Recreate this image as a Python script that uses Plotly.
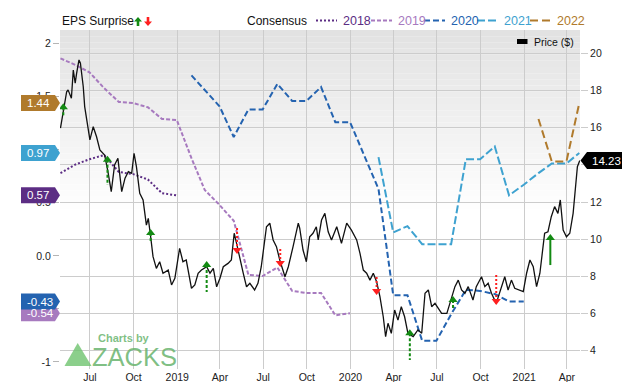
import plotly.graph_objects as go
import numpy as np

# ---------------- DATA ----------------
price_dates = [
    "2018-04-30", "2018-05-06", "2018-05-13", "2018-05-16", "2018-05-23", "2018-05-27", "2018-05-31",
    "2018-06-03", "2018-06-08", "2018-06-11", "2018-06-17", "2018-06-20", "2018-06-24", "2018-07-01",
    "2018-07-08", "2018-07-15", "2018-07-22", "2018-08-01", "2018-08-08", "2018-08-15", "2018-08-22",
    "2018-08-29", "2018-09-06", "2018-09-13", "2018-09-20", "2018-09-27", "2018-10-02", "2018-10-07",
    "2018-10-14", "2018-10-21", "2018-10-28", "2018-11-01", "2018-11-06", "2018-11-11", "2018-11-18",
    "2018-11-25", "2018-12-02", "2018-12-13", "2018-12-20", "2018-12-27", "2019-01-06", "2019-01-13",
    "2019-01-20", "2019-01-31", "2019-02-07", "2019-02-14", "2019-02-21", "2019-03-04", "2019-03-11",
    "2019-03-18", "2019-03-25", "2019-04-01", "2019-04-08", "2019-04-18", "2019-04-25", "2019-05-01",
    "2019-05-06", "2019-05-13", "2019-05-20", "2019-05-27", "2019-06-03", "2019-06-13", "2019-06-20",
    "2019-06-27", "2019-07-08", "2019-07-15", "2019-07-22", "2019-07-29", "2019-08-05", "2019-08-16",
    "2019-08-23", "2019-09-02", "2019-09-13", "2019-09-16", "2019-09-23", "2019-09-30", "2019-10-07",
    "2019-10-14", "2019-10-21", "2019-10-25", "2019-11-01", "2019-11-08", "2019-11-15", "2019-11-22",
    "2019-12-03", "2019-12-13", "2019-12-24", "2020-01-03", "2020-01-14", "2020-01-21", "2020-01-28",
    "2020-02-04", "2020-02-11", "2020-02-18", "2020-02-25", "2020-03-03", "2020-03-10", "2020-03-15",
    "2020-03-20", "2020-03-27", "2020-04-03", "2020-04-10", "2020-04-17", "2020-04-24", "2020-05-01",
    "2020-05-12", "2020-05-22", "2020-05-30", "2020-06-06", "2020-06-13", "2020-06-20", "2020-06-27",
    "2020-07-04", "2020-07-11", "2020-07-22", "2020-08-01", "2020-08-08", "2020-08-15", "2020-08-22",
    "2020-08-29", "2020-09-05", "2020-09-15", "2020-09-22", "2020-10-03", "2020-10-10", "2020-10-17",
    "2020-10-24", "2020-11-03", "2020-11-10", "2020-11-21", "2020-11-28", "2020-12-05", "2020-12-12",
    "2020-12-23", "2020-12-30", "2021-01-06", "2021-01-13", "2021-01-20", "2021-01-27", "2021-02-03",
    "2021-02-13", "2021-02-20", "2021-02-27", "2021-03-06", "2021-03-13", "2021-03-18", "2021-03-24",
    "2021-03-31", "2021-04-07", "2021-04-14", "2021-04-20", "2021-04-23", "2021-04-28",
]
price_values = [
    15.97, 16.95, 17.93, 18.03, 17.58, 19.10, 18.39,
    18.92, 19.64, 19.46, 18.20, 17.13, 16.41, 15.34,
    16.05, 15.51, 14.80, 14.53, 13.63, 12.56, 13.99,
    14.35, 12.56, 13.28, 13.63, 13.54, 14.62, 13.90,
    12.47, 12.11, 10.76, 11.12, 10.13, 9.06, 8.43,
    8.79, 8.17, 8.34, 7.54, 7.90, 9.51, 8.79,
    8.88, 7.36, 7.54, 8.17, 8.34, 8.52, 8.17,
    8.43, 7.44, 7.90, 8.52, 8.70, 8.88, 10.32,
    9.78, 8.88, 8.17, 7.44, 7.63, 7.27, 7.63,
    8.52, 10.67, 10.86, 9.96, 9.60, 8.88, 7.98,
    8.52, 9.60, 10.86, 10.59, 9.42, 8.79, 10.13,
    10.32, 10.67, 9.96, 11.03, 11.39, 10.40, 9.96,
    10.67, 9.78, 10.86, 10.49, 9.96, 9.24, 8.34,
    8.17, 7.80, 8.17, 7.71, 6.91, 5.83, 4.76,
    5.48, 4.94, 6.19, 5.65, 6.37, 5.83, 4.94,
    4.76, 5.12, 4.94, 7.09, 7.27, 6.37, 6.55,
    6.28, 6.01, 6.01, 6.91, 7.45, 7.80, 7.27,
    7.09, 7.45, 6.73, 7.45, 7.98, 7.45, 7.63,
    7.09, 6.55, 7.09, 7.98, 7.27, 7.80, 7.36,
    7.27, 7.18, 8.17, 8.88, 8.52, 7.45, 8.17,
    10.32, 10.40, 11.21, 11.75, 11.39, 12.11, 10.49,
    10.13, 10.32, 11.39, 12.82, 13.90, 14.23,
]

cons2018_dates = ["2018-04-30", "2018-05-31", "2018-06-30", "2018-07-31", "2018-08-31",
                  "2018-09-30", "2018-10-31", "2018-11-30", "2018-12-31"]
cons2018_values = [0.78, 0.86, 0.91, 0.95, 0.79, 0.77, 0.72, 0.59, 0.57]

cons2019_dates = ["2018-04-30", "2018-05-31", "2018-06-30", "2018-07-31", "2018-08-31", "2018-09-30",
                  "2018-10-31", "2018-11-30", "2018-12-31", "2019-01-31", "2019-02-28", "2019-03-31",
                  "2019-04-30", "2019-05-31", "2019-06-30", "2019-07-31", "2019-08-31", "2019-09-30",
                  "2019-10-31", "2019-11-30", "2019-12-31"]
cons2019_values = [1.86, 1.80, 1.73, 1.58, 1.45, 1.44, 1.40, 1.29, 1.28, 0.92, 0.62, 0.48,
                   0.33, -0.18, -0.19, -0.11, -0.33, -0.35, -0.35, -0.56, -0.54]

cons2020_dates = ["2019-01-31", "2019-02-28", "2019-03-31", "2019-04-30", "2019-05-31", "2019-06-30",
                  "2019-07-31", "2019-08-31", "2019-09-30", "2019-10-31", "2019-11-30", "2019-12-31",
                  "2020-01-31", "2020-02-29", "2020-03-31", "2020-04-30", "2020-05-31", "2020-06-30",
                  "2020-07-31", "2020-08-31", "2020-09-30", "2020-10-31", "2020-11-30", "2020-12-31"]
cons2020_values = [1.70, 1.56, 1.41, 1.12, 1.38, 1.38, 1.62, 1.46, 1.46, 1.59, 1.26, 1.26,
                   0.93, 0.63, -0.37, -0.37, -0.80, -0.80, -0.55, -0.32, -0.33, -0.36, -0.43, -0.43]

cons2021_dates = ["2020-02-29", "2020-03-31", "2020-04-30", "2020-05-31", "2020-06-30", "2020-07-31",
                  "2020-08-31", "2020-09-30", "2020-10-31", "2020-11-30", "2020-12-31", "2021-01-31",
                  "2021-02-28", "2021-03-31", "2021-04-27"]
cons2021_values = [0.93, 0.22, 0.28, 0.11, 0.11, 0.11, 0.91, 0.91, 1.03, 0.57, 0.67, 0.78,
                   0.87, 0.87, 0.97]

cons2022_dates = ["2021-01-31", "2021-02-28", "2021-03-31", "2021-04-27"]
cons2022_values = [1.29, 0.89, 0.89, 1.44]

# EPS surprises (on price axis): arrow head price, tail price, direction, stem style
surprise_dates = ["2018-05-06", "2018-08-07", "2018-11-06", "2019-03-04", "2019-05-07", "2019-08-06",
                  "2020-02-25", "2020-05-05", "2020-08-04", "2020-11-03", "2021-02-25"]
surprise_head = [17.10, 14.27, 10.33, 8.61, 9.42, 8.72, 7.21, 4.94, 6.73, 6.68, 10.06]
surprise_tail = [16.60, 12.92, 9.85, 7.16, 10.60, 9.53, 8.07, 3.50, 6.30, 8.07, 8.61]
surprise_dir = ["up", "up", "up", "up", "down", "down", "down", "up", "up", "down", "up"]
surprise_style = ["dash", "dash", "dash", "dash", "dot", "dot", "dot", "dash", "dash", "dot", "solid"]

xtick_vals = ["2018-07-01", "2018-10-01", "2019-01-01", "2019-04-01", "2019-07-01", "2019-10-01",
              "2020-01-01", "2020-04-01", "2020-07-01", "2020-10-01", "2021-01-01", "2021-04-01"]
xtick_text = ["Jul", "Oct", "2019", "Apr", "Jul", "Oct", "2020", "Apr", "Jul", "Oct", "2021", "Apr"]
# ticks hidden behind the value badges carry no label
eps_tick_vals = [2, 1.5, 1, 0.5, 0, -0.5, -1]
eps_tick_text = ["2", "1.5", "", "0.5", "0.0", "", "-1"]
price_tick_vals = [4, 6, 8, 10, 12, 14, 16, 18, 20]
price_tick_text = ["4", "6", "8", "10", "12", "", "16", "18", "20"]

series_names = ["2018", "2019", "2020", "2021", "2022"]

# ---------------- STYLE ----------------
FONT = "Arial, Liberation Sans, sans-serif"
COLORS = {"2018": "#5c2d84", "2019": "#a77abf", "2020": "#2463b0", "2021": "#3ea2d0", "2022": "#b07a2c"}
DASHES = {"2018": "2px,2px", "2019": "4px,2px", "2020": "6px,3px", "2021": "8px,3px", "2022": "8px,4px"}
STEM_DASH = {"dash": "3px,2px", "dot": "2px,2px", "solid": "solid"}
GREEN = "#138a13"
RED = "#ff1f1f"

PL, PR, PT, PB = 60, 580, 30, 369
W, H = 640, 382


def fx(x):
    return (x - PL) / (PR - PL)


def fy(y):
    return (PB - y) / (PB - PT)


fig = go.Figure()

cons = {
    "2018": (cons2018_dates, cons2018_values),
    "2019": (cons2019_dates, cons2019_values),
    "2020": (cons2020_dates, cons2020_values),
    "2021": (cons2021_dates, cons2021_values),
    "2022": (cons2022_dates, cons2022_values),
}
for name in series_names:
    d, v = cons[name]
    fig.add_trace(go.Scatter(x=d, y=v, mode="lines", yaxis="y",
                             line=dict(color=COLORS[name], width=2, dash=DASHES[name]),
                             hoverinfo="skip"))

fig.add_trace(go.Scatter(x=price_dates, y=price_values, mode="lines", yaxis="y2",
                         line=dict(color="#111111", width=1.3), hoverinfo="skip"))

for d, hd, tl, dr, st in zip(surprise_dates, surprise_head, surprise_tail, surprise_dir, surprise_style):
    col = GREEN if dr == "up" else RED
    fig.add_trace(go.Scatter(x=[d, d], y=[hd, tl], mode="lines", yaxis="y2",
                             line=dict(color=col, width=2, dash=STEM_DASH[st]), hoverinfo="skip"))
    fig.add_trace(go.Scatter(x=[d], y=[hd], mode="markers", yaxis="y2",
                             marker=dict(symbol="triangle-up" if dr == "up" else "triangle-down",
                                         size=8, color=col, line=dict(width=0)),
                             hoverinfo="skip"))

shapes = []
annotations = []

# background gradient (top grey -> white)
n_bands = 30
y_top, y_white = 30, 215
for i in range(n_bands):
    y0 = y_top + (y_white - y_top) * i / n_bands
    y1 = y_top + (y_white - y_top) * (i + 1) / n_bands
    c = int(round(226 + (255 - 226) * (i + 0.5) / n_bands))
    shapes.append(dict(type="rect", xref="paper", yref="paper", x0=0, x1=1, y0=fy(y1), y1=fy(y0),
                       fillcolor=f"rgb({c},{c},{c})", line=dict(width=0), layer="below"))

# Legend: EPS Surprise
annotations.append(dict(text="EPS Surprise", x=fx(60), y=fy(21), xref="paper", yref="paper",
                        xanchor="left", yanchor="middle", showarrow=False,
                        font=dict(size=12, color="#111", family=FONT)))


def arrow_path(cx, ty, up=True):
    if up:
        pts = [(cx, ty), (cx + 4, ty + 4.5), (cx + 1.3, ty + 4.5), (cx + 1.3, ty + 9),
               (cx - 1.3, ty + 9), (cx - 1.3, ty + 4.5), (cx - 4, ty + 4.5)]
    else:
        by = ty + 9
        pts = [(cx, by), (cx + 4, by - 4.5), (cx + 1.3, by - 4.5), (cx + 1.3, ty),
               (cx - 1.3, ty), (cx - 1.3, by - 4.5), (cx - 4, by - 4.5)]
    return "M " + " L ".join(f"{fx(x):.5f},{fy(y):.5f}" for x, y in pts) + " Z"


shapes.append(dict(type="path", xref="paper", yref="paper", path=arrow_path(138, 17, True),
                   fillcolor=GREEN, line=dict(width=0)))
shapes.append(dict(type="path", xref="paper", yref="paper", path=arrow_path(148, 17, False),
                   fillcolor=RED, line=dict(width=0)))

# Legend: Consensus
annotations.append(dict(text="Consensus", x=fx(309), y=fy(21), xref="paper", yref="paper",
                        xanchor="right", yanchor="middle", showarrow=False,
                        font=dict(size=12, color="#111", family=FONT)))
legend_x = {"2018": 316, "2019": 371, "2020": 424, "2021": 477, "2022": 530}
for name in series_names:
    x0 = legend_x[name]
    shapes.append(dict(type="line", xref="paper", yref="paper", x0=fx(x0), x1=fx(x0 + 21),
                       y0=fy(20.5), y1=fy(20.5), line=dict(color=COLORS[name], width=2, dash=DASHES[name])))
    annotations.append(dict(text=name, x=fx(x0 + 25), y=fy(21), xref="paper", yref="paper",
                            xanchor="left", yanchor="middle", showarrow=False,
                            font=dict(size=12.5, color=COLORS[name], family=FONT)))

# Legend: Price
shapes.append(dict(type="rect", xref="paper", yref="paper", x0=fx(517), x1=fx(527.5), y0=fy(44), y1=fy(39),
                   fillcolor="#000", line=dict(width=0)))
annotations.append(dict(text="Price ($)", x=fx(532), y=fy(42), xref="paper", yref="paper",
                        xanchor="left", yanchor="middle", showarrow=False,
                        font=dict(size=10.5, color="#111", family=FONT)))

# Left badges at last consensus values
eps_per_px = (2 - (-1)) / (362 - 44)
hh = 8 * eps_per_px
for name in series_names:
    v = cons[name][1][-1]
    xa, xb, xc = fx(21), fx(55), fx(60)
    path = (f"M {xa:.5f},{v + hh:.4f} L {xb:.5f},{v + hh:.4f} L {xc:.5f},{v:.4f} "
            f"L {xb:.5f},{v - hh:.4f} L {xa:.5f},{v - hh:.4f} Z")
    shapes.append(dict(type="path", xref="paper", yref="y", path=path,
                       fillcolor=COLORS[name], line=dict(width=0), layer="above"))
    annotations.append(dict(text=f"{v:.2f}", x=fx(25), y=v, xref="paper", yref="y",
                            xanchor="left", yanchor="middle", showarrow=False,
                            font=dict(size=11.5, color="#ffffff", family=FONT)))

# Right price badge
pv = price_values[-1]
pr_per_px = 2 / 37.2
ph = 8.5 * pr_per_px
xa, xb, xc = fx(580.5), fx(587), fx(622)
path = (f"M {xa:.5f},{pv:.4f} L {xb:.5f},{pv + ph:.4f} L {xc:.5f},{pv + ph:.4f} "
        f"L {xc:.5f},{pv - ph:.4f} L {xb:.5f},{pv - ph:.4f} Z")
shapes.append(dict(type="path", xref="paper", yref="y2", path=path, fillcolor="#000",
                   line=dict(width=0), layer="above"))
annotations.append(dict(text=f"{pv:.2f}", x=fx(590), y=pv, xref="paper", yref="y2",
                        xanchor="left", yanchor="middle", showarrow=False,
                        font=dict(size=11.5, color="#ffffff", family=FONT)))

# Zacks logo
LOGO = "rgba(105,180,110,0.85)"
tri = [(77.7, 343), (91.5, 366), (64.5, 366)]
shapes.append(dict(type="path", xref="paper", yref="paper",
                   path="M " + " L ".join(f"{fx(x):.5f},{fy(y):.5f}" for x, y in tri) + " Z",
                   fillcolor="rgba(110,195,110,0.8)", line=dict(width=0)))
annotations.append(dict(text="<b>Charts by</b>", x=fx(96), y=fy(337.5), xref="paper", yref="paper",
                        xanchor="left", yanchor="middle", showarrow=False,
                        font=dict(size=11, color=LOGO, family=FONT)))
annotations.append(dict(text="ZACKS", x=fx(90), y=fy(357), xref="paper", yref="paper",
                        xanchor="left", yanchor="middle", showarrow=False,
                        font=dict(size=25.5, color=LOGO, family=FONT)))

fig.update_layout(
    width=W, height=H,
    margin=dict(l=PL, r=W - PR, t=PT, b=H - PB, autoexpand=False),
    paper_bgcolor="#ffffff", plot_bgcolor="#ffffff",
    showlegend=False, hovermode=False,
    font=dict(family=FONT, size=10.5, color="#222"),
    xaxis=dict(type="date", range=["2018-04-29", "2021-04-28 12:00"],
               tickmode="array", tickvals=xtick_vals, ticktext=xtick_text,
               showgrid=True, gridcolor="#cccccc", gridwidth=1, zeroline=False, showline=False,
               ticks="", tickfont=dict(size=10.5, color="#222"), automargin=False),
    yaxis=dict(range=[-1.066, 2.128], tickmode="array", tickvals=eps_tick_vals, ticktext=eps_tick_text,
               showgrid=False, zeroline=False, showline=False, ticks="outside", ticklen=6,
               tickcolor="#b5b5b5", tickfont=dict(size=10.5, color="#222"), automargin=False),
    yaxis2=dict(range=[3.02, 21.25], overlaying="y", side="right", tickmode="array",
                tickvals=price_tick_vals, ticktext=price_tick_text, showgrid=True, gridcolor="#cccccc",
                zeroline=False, showline=False, ticks="outside", ticklen=7, tickcolor="#cccccc",
                tickfont=dict(size=10.5, color="#222"), automargin=False),
    shapes=shapes, annotations=annotations,
)

# remove the browser's default page margin so the figure sits at the window origin
fig.write_html("out.html", config={"displayModeBar": False},
               post_script="document.body.style.margin='0px';")
